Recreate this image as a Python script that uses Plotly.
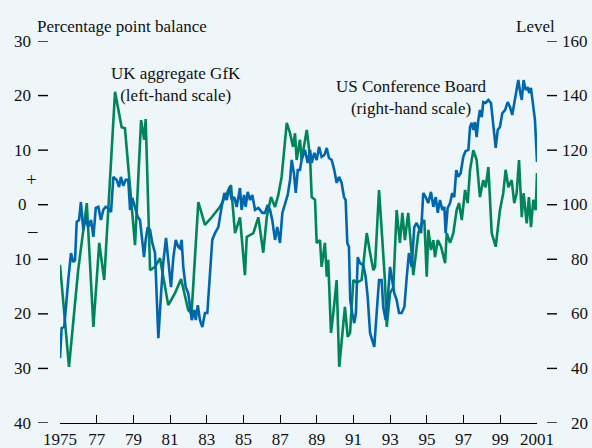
import plotly.graph_objects as go

# ---------------- data ----------------
uk_years = [1975.00, 1975.49, 1975.99, 1976.46, 1976.82, 1977.14, 1977.41, 1978.00, 1978.36, 1978.54,
            1979.09, 1979.42, 1979.59, 1979.67, 1979.91, 1980.18, 1980.45, 1980.90, 1981.27, 1981.60,
            1981.99, 1982.17, 1982.54, 1982.90, 1983.27, 1983.72, 1983.99, 1984.32, 1984.54, 1984.81,
            1985.08, 1985.18, 1985.54, 1985.81, 1986.08, 1986.27, 1986.50, 1986.72, 1986.90, 1987.08,
            1987.36, 1987.54, 1987.70, 1987.81, 1987.90, 1988.08, 1988.17, 1988.45, 1988.63, 1988.72,
            1988.90, 1988.99, 1989.17, 1989.26, 1989.44, 1989.54, 1989.62, 1989.77, 1989.90, 1990.08,
            1990.22, 1990.35, 1990.53, 1990.68, 1990.81, 1990.99, 1991.17, 1991.44, 1991.62, 1991.72,
            1991.90, 1992.08, 1992.17, 1992.39, 1992.57, 1992.71, 1992.81, 1992.99, 1993.17, 1993.35,
            1993.53, 1993.66, 1993.80, 1993.98, 1994.26, 1994.44, 1994.53, 1994.72, 1994.86, 1994.99,
            1995.08, 1995.22, 1995.35, 1995.44, 1995.59, 1995.77, 1995.99, 1996.08, 1996.26, 1996.44,
            1996.62, 1996.75, 1996.90, 1997.08, 1997.22, 1997.35, 1997.53, 1997.71, 1997.89, 1998.07,
            1998.20, 1998.35, 1998.53, 1998.75, 1998.98, 1999.16, 1999.29, 1999.44, 1999.62, 1999.76,
            1999.89, 2000.02, 2000.17, 2000.27, 2000.44, 2000.56, 2000.67, 2000.80, 2000.93, 2001.00]
uk_gfk = [-11.0, -29.7, -12.0, 0.3, -22.4, -7.0, -13.8, 20.7, 14.2, 14.0,
          -7.4, 15.5, 11.9, 15.7, -12.0, -11.4, -9.8, -18.4, -16.2, -13.6,
          -19.3, -19.9, 0.5, -3.7, -2.3, -0.4, 1.4, 3.6, -5.2, -2.3,
          -12.9, -5.9, -5.2, -2.3, -8.8, -2.3, 1.4, -0.4, 1.8, 5.1,
          15.0, 13.1, 10.6, 13.1, 8.2, 11.9, 8.2, 13.7, 8.7, 1.4,
          0.9, -7.0, -6.5, -11.4, -7.0, -13.2, -10.1, -23.5, -19.8, -13.8,
          -29.7, -25.3, -18.7, -24.2, -23.5, -13.8, -14.3, -13.8, -8.3, -5.2,
          -8.8, -12.0, -11.4, 2.7, -6.5, -13.8, -22.4, -16.2, -15.1, -1.0,
          -7.0, -1.5, -6.5, -1.5, -12.9, -7.7, -5.2, -3.4, -2.8, -13.2,
          -4.6, -8.3, -6.5, -9.6, -6.5, -7.7, -10.7, -5.2, -7.0, -5.2,
          -1.0, 0.3, -2.8, 2.7, 0.3, 6.4, 10.0, 8.2, 1.4, 4.5,
          3.2, 6.9, -5.2, -7.7, -1.0, 2.1, 6.4, 3.2, 4.5, 0.3,
          2.1, 8.2, -2.3, 2.1, -3.4, 1.4, -4.1, 0.9, -1.0, 5.8]

us_years = [1975.00, 1975.09, 1975.23, 1975.37, 1975.45, 1975.60, 1975.72, 1975.82, 1975.91, 1976.04,
            1976.14, 1976.27, 1976.40, 1976.54, 1976.69, 1976.82, 1976.95, 1977.09, 1977.23, 1977.36,
            1977.49, 1977.63, 1977.78, 1977.91, 1978.09, 1978.22, 1978.32, 1978.45, 1978.58, 1978.72,
            1978.82, 1978.94, 1979.09, 1979.24, 1979.36, 1979.49, 1979.58, 1979.67, 1979.78, 1979.91,
            1980.03, 1980.18, 1980.27, 1980.36, 1980.51, 1980.63, 1980.78, 1980.90, 1981.05, 1981.18,
            1981.31, 1981.45, 1981.54, 1981.63, 1981.72, 1981.85, 1981.99, 1982.09, 1982.18, 1982.32,
            1982.40, 1982.51, 1982.63, 1982.76, 1982.90, 1983.03, 1983.18, 1983.30, 1983.45, 1983.63,
            1983.81, 1983.96, 1984.09, 1984.23, 1984.36, 1984.50, 1984.63, 1984.81, 1984.90, 1985.03,
            1985.12, 1985.23, 1985.36, 1985.48, 1985.63, 1985.81, 1986.03, 1986.17, 1986.32, 1986.45,
            1986.57, 1986.72, 1986.84, 1986.99, 1987.12, 1987.26, 1987.41, 1987.54, 1987.63, 1987.75,
            1987.85, 1987.96, 1988.08, 1988.17, 1988.35, 1988.50, 1988.63, 1988.72, 1988.86, 1988.99,
            1989.12, 1989.26, 1989.41, 1989.54, 1989.66, 1989.81, 1989.95, 1990.08, 1990.21, 1990.35,
            1990.48, 1990.57, 1990.66, 1990.75, 1990.82, 1990.93, 1991.04, 1991.13, 1991.23, 1991.35,
            1991.53, 1991.66, 1991.77, 1991.90, 1992.02, 1992.13, 1992.26, 1992.39, 1992.53, 1992.62,
            1992.75, 1992.86, 1992.99, 1993.11, 1993.22, 1993.35, 1993.48, 1993.62, 1993.77, 1993.90,
            1994.02, 1994.17, 1994.31, 1994.44, 1994.53, 1994.68, 1994.80, 1994.93, 1995.07, 1995.22,
            1995.35, 1995.48, 1995.59, 1995.71, 1995.84, 1995.95, 1996.02, 1996.13, 1996.26, 1996.38,
            1996.49, 1996.60, 1996.71, 1996.84, 1996.98, 1997.11, 1997.26, 1997.35, 1997.44, 1997.53,
            1997.62, 1997.71, 1997.80, 1997.89, 1997.99, 1998.07, 1998.20, 1998.35, 1998.49, 1998.62,
            1998.75, 1998.86, 1998.98, 1999.11, 1999.26, 1999.40, 1999.53, 1999.65, 1999.80, 1999.89,
            1999.98, 2000.09, 2000.17, 2000.27, 2000.38, 2000.49, 2000.58, 2000.67, 2000.78, 2000.89,
            2001.00]
us_conf = [43.8, 54.8, 55.2, 67.6, 72.4, 82.3, 79.0, 79.7, 93.7, 94.4,
           101.0, 90.7, 95.5, 91.8, 94.4, 88.2, 98.8, 99.2, 94.4, 98.1,
           99.2, 98.8, 97.3, 110.2, 109.1, 106.5, 110.2, 106.9, 109.1, 109.1,
           98.1, 102.5, 99.2, 95.5, 94.4, 87.1, 80.8, 87.1, 91.8, 90.7,
           86.0, 82.3, 67.6, 51.1, 67.6, 79.0, 87.8, 79.7, 69.8, 80.8,
           87.1, 84.5, 84.0, 87.1, 77.2, 69.8, 67.6, 62.5, 57.7, 61.4,
           57.7, 63.2, 57.7, 55.2, 60.3, 60.3, 77.2, 87.1, 89.6, 91.8,
           99.2, 104.3, 101.7, 106.5, 101.7, 102.8, 99.2, 106.1, 98.1, 103.6,
           99.2, 104.7, 101.7, 103.6, 98.1, 98.8, 97.0, 97.0, 99.9, 98.1,
           94.4, 87.1, 91.8, 86.0, 97.0, 100.6, 103.6, 109.1, 116.4, 111.6,
           104.3, 112.7, 112.7, 116.4, 120.1, 115.3, 120.1, 115.3, 119.0, 116.4,
           121.2, 117.5, 118.2, 120.8, 117.1, 116.4, 112.7, 108.0, 110.2, 108.0,
           102.8, 101.7, 86.0, 84.5, 65.1, 60.3, 56.6, 60.3, 80.8, 78.6,
           77.9, 73.5, 66.2, 53.0, 50.4, 47.9, 60.3, 72.4, 72.4, 62.5,
           57.7, 65.1, 77.2, 72.4, 67.6, 65.1, 60.3, 60.3, 62.5, 73.5,
           82.3, 77.2, 91.8, 93.3, 91.8, 89.6, 104.3, 102.8, 100.6, 104.7,
           99.2, 102.8, 97.0, 101.7, 98.1, 99.2, 89.6, 98.8, 100.6, 104.3,
           102.8, 112.7, 110.2, 111.6, 117.5, 119.7, 120.1, 128.5, 130.0, 127.4,
           130.3, 124.8, 131.0, 134.7, 132.1, 137.6, 137.3, 138.4, 137.3, 130.0,
           120.8, 127.4, 128.5, 133.6, 134.7, 137.6, 135.8, 132.9, 139.5, 143.1,
           145.7, 140.9, 138.4, 145.7, 142.0, 143.1, 140.9, 142.8, 137.3, 131.0,
           115.7]

x_tick_vals = [1975, 1977, 1979, 1981, 1983, 1985, 1987, 1989, 1991, 1993, 1995, 1997, 1999, 2001]
x_tick_text = ["1975", "77", "79", "81", "83", "85", "87", "89", "91", "93", "95", "97", "99", "2001"]
left_tick_vals = [30, 20, 10, 0, -10, -20, -30, -40]
left_tick_text = ["30", "20", "10", "0", "10", "20", "30", "40"]
right_tick_vals = [160, 140, 120, 100, 80, 60, 40, 20]
right_tick_text = ["160", "140", "120", "100", "80", "60", "40", "20"]

# ---------------- styling ----------------
BG = "#eef6f9"
GREEN = "#00855a"
BLUE = "#0067ad"
FONT = "Liberation Serif"
FS = 17
W, H = 592, 448
L_M, R_M, T_M, B_M = 60, 55, 41, 25
PW = W - L_M - R_M
PH = H - T_M - B_M


def px_x(px):
    return (px - L_M) / PW


def px_y(py):
    return (H - B_M - py) / PH


fig = go.Figure()
fig.add_trace(go.Scatter(x=uk_years, y=uk_gfk, mode="lines", yaxis="y",
                         line=dict(color=GREEN, width=2.6), showlegend=False))
fig.add_trace(go.Scatter(x=us_years, y=us_conf, mode="lines", yaxis="y2",
                         line=dict(color=BLUE, width=2.6), showlegend=False))

shapes = []
annotations = []
for v, t in zip(left_tick_vals, left_tick_text):
    shapes.append(dict(type="line", xref="paper", yref="y", x0=px_x(38), x1=px_x(48), y0=v, y1=v,
                       line=dict(color="black", width=1.4)))
    annotations.append(dict(xref="paper", yref="y", x=px_x(22.5), y=v, text=t, showarrow=False,
                            xanchor="center", yanchor="middle", font=dict(family=FONT, size=FS, color="#111")))
for v, t in zip(right_tick_vals, right_tick_text):
    shapes.append(dict(type="line", xref="paper", yref="y2", x0=px_x(547), x1=px_x(557), y0=v, y1=v,
                       line=dict(color="black", width=1.4)))
    annotations.append(dict(xref="paper", yref="y2", x=px_x(590), y=v, text=t, showarrow=False,
                            xanchor="right", yanchor="middle", font=dict(family=FONT, size=FS, color="#111")))

annotations += [
    dict(xref="paper", yref="y", x=px_x(31), y=4.6, text="+", showarrow=False,
         xanchor="center", yanchor="middle", font=dict(family=FONT, size=19, color="#111")),
    dict(xref="paper", yref="y", x=px_x(32), y=-4.8, text="–", showarrow=False,
         xanchor="center", yanchor="middle", font=dict(family=FONT, size=19, color="#111")),
    dict(xref="paper", yref="paper", x=px_x(35), y=px_y(26), text="Percentage point balance",
         showarrow=False, xanchor="left", yanchor="middle", font=dict(family=FONT, size=FS, color="#111")),
    dict(xref="paper", yref="paper", x=px_x(557), y=px_y(26), text="Level",
         showarrow=False, xanchor="right", yanchor="middle", font=dict(family=FONT, size=FS, color="#111")),
    dict(xref="paper", yref="paper", x=px_x(176), y=px_y(84), text="UK aggregate GfK<br>(left-hand scale)",
         showarrow=False, xanchor="center", yanchor="middle", align="center",
         font=dict(family=FONT, size=FS, color="#111")),
    dict(xref="paper", yref="paper", x=px_x(411), y=px_y(97.5), text="US Conference Board<br>(right-hand scale)",
         showarrow=False, xanchor="center", yanchor="middle", align="center",
         font=dict(family=FONT, size=FS, color="#111")),
]

fig.update_layout(
    width=W, height=H,
    margin=dict(l=L_M, r=R_M, t=T_M, b=B_M, pad=0, autoexpand=False),
    paper_bgcolor=BG, plot_bgcolor=BG,
    font=dict(family=FONT, size=FS, color="#111"),
    xaxis=dict(range=[1975, 2001], showgrid=False, zeroline=False, showline=True,
               linecolor="black", linewidth=1.4, ticks="inside", ticklen=8, tickwidth=1.4,
               tickcolor="black", tickvals=x_tick_vals, ticktext=x_tick_text, automargin=False,
               tickfont=dict(family=FONT, size=FS, color="#111")),
    yaxis=dict(range=[-40, 30], showgrid=False, zeroline=False, showline=False,
               showticklabels=False, ticks="", automargin=False),
    yaxis2=dict(range=[20, 160], overlaying="y", side="right", showgrid=False, zeroline=False,
                showline=False, showticklabels=False, ticks="", automargin=False),
    shapes=shapes, annotations=annotations,
)

fig.write_html(
    "out.html",
    config={"displayModeBar": False},
    post_script="document.body.style.margin='0';document.body.style.padding='0';"
                "document.body.style.background='" + BG + "';",
)
